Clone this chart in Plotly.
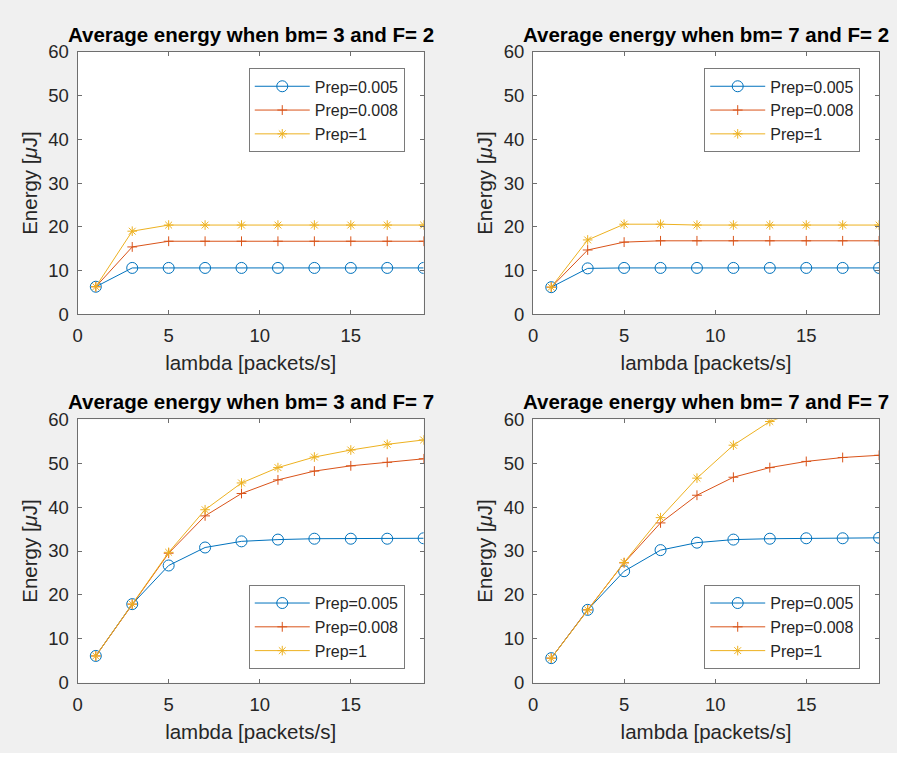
import plotly.graph_objects as go

# Arrival rate lambda [packets/s]
lam = [1, 3, 5, 7, 9, 11, 13, 15, 17, 19]

# Panel settings (bm, F)
panels = [(3, 2), (7, 2), (3, 7), (7, 7)]

# Average energy [uJ] for Prep = 0.005, 0.008, 1 in each panel
e_bm3_F2_p005 = [6.3, 10.6, 10.6, 10.6, 10.6, 10.6, 10.6, 10.6, 10.6, 10.6]
e_bm3_F2_p008 = [6.3, 15.4, 16.7, 16.7, 16.7, 16.7, 16.7, 16.7, 16.7, 16.7]
e_bm3_F2_p1 = [6.3, 19.0, 20.4, 20.4, 20.4, 20.4, 20.4, 20.4, 20.4, 20.4]

e_bm7_F2_p005 = [6.2, 10.5, 10.6, 10.6, 10.6, 10.6, 10.6, 10.6, 10.6, 10.6]
e_bm7_F2_p008 = [6.2, 14.7, 16.5, 16.8, 16.8, 16.8, 16.8, 16.8, 16.8, 16.8]
e_bm7_F2_p1 = [6.2, 17.0, 20.6, 20.6, 20.4, 20.4, 20.4, 20.4, 20.4, 20.4]

e_bm3_F7_p005 = [6.1, 17.9, 26.7, 30.8, 32.2, 32.6, 32.8, 32.8, 32.8, 32.9]
e_bm3_F7_p008 = [6.1, 17.9, 29.5, 38.0, 43.1, 46.2, 48.2, 49.4, 50.2, 51.0]
e_bm3_F7_p1 = [6.1, 17.9, 29.7, 39.4, 45.5, 49.0, 51.4, 53.0, 54.3, 55.3]

e_bm7_F7_p005 = [5.6, 16.6, 25.4, 30.2, 31.9, 32.6, 32.8, 32.9, 32.9, 33.0]
e_bm7_F7_p008 = [5.6, 16.6, 27.3, 36.4, 42.7, 46.8, 49.0, 50.4, 51.3, 51.8]
e_bm7_F7_p1 = [5.6, 16.6, 27.4, 37.6, 46.6, 54.1, 59.5, 62.5, 64.6, 66.0]

energy = [
    [e_bm3_F2_p005, e_bm3_F2_p008, e_bm3_F2_p1],
    [e_bm7_F2_p005, e_bm7_F2_p008, e_bm7_F2_p1],
    [e_bm3_F7_p005, e_bm3_F7_p008, e_bm3_F7_p1],
    [e_bm7_F7_p005, e_bm7_F7_p008, e_bm7_F7_p1],
]

series_names = ["Prep=0.005", "Prep=0.008", "Prep=1"]
colors = ["#0072BD", "#D95319", "#EDB120"]
symbols = ["circle-open", "cross-thin-open", "asterisk-open"]
msizes = [11, 7, 8]

x_ticks = [0, 5, 10, 15]
y_ticks = [0, 10, 20, 30, 40, 50, 60]

# figure kept a few px shorter than the window so the page never scrolls
W, H = 897, 753
FONT = "Liberation Sans, Arial, Helvetica, sans-serif"
AX_COLOR = "#6e6e6e"
TXT_COLOR = "#262626"

# axes boxes in pixels: (left, right, top, bottom)
boxes = [
    (73, 421, 42, 312),
    (531, 879, 42, 312),
    (73, 421, 420, 691),
    (531, 879, 420, 691),
]


def px_x(v):
    return v / W


def px_y(v):
    return 1 - v / H


fig = go.Figure()
layout = dict(
    width=W,
    height=H,
    margin=dict(l=0, r=0, t=0, b=0),
    paper_bgcolor="#f0f0f0",
    plot_bgcolor="#ffffff",
    font=dict(family=FONT, color=TXT_COLOR),
    annotations=[],
)

for i, ((bm, F), (l, r, t, b)) in enumerate(zip(panels, boxes)):
    k = "" if i == 0 else str(i + 1)
    xa, ya = "x" + k, "y" + k
    leg = "legend" + k
    for j in range(3):
        fig.add_trace(go.Scatter(
            x=lam, y=energy[i][j], name=series_names[j],
            mode="lines+markers", xaxis=xa, yaxis=ya, legend=leg,
            line=dict(color=colors[j], width=1),
            marker=dict(symbol=symbols[j], size=msizes[j], color=colors[j],
                        line=dict(color=colors[j], width=1)),
        ))
    xdom = [px_x(l), px_x(r)]
    ydom = [px_y(b), px_y(t)]
    common = dict(
        showline=True, linecolor=AX_COLOR, linewidth=1, mirror="ticks",
        ticks="inside", ticklen=4, tickcolor=AX_COLOR, tickwidth=1,
        showgrid=False, zeroline=False, fixedrange=True,
        tickfont=dict(family=FONT, size=18.5, color=TXT_COLOR),
    )
    layout["xaxis" + k] = dict(
        common, domain=xdom, anchor=ya, range=[0, 19], tickvals=x_ticks,
        ticklabelstandoff=5,
        title=dict(text="lambda [packets/s]", standoff=10,
                   font=dict(family=FONT, size=20.5, color=TXT_COLOR)),
    )
    layout["yaxis" + k] = dict(
        common, domain=ydom, anchor=xa, range=[0, 60], tickvals=y_ticks,
        ticklabelstandoff=4,
        title=dict(text="Energy [<i>μ</i>J]", standoff=5,
                   font=dict(family=FONT, size=20.5, color=TXT_COLOR)),
    )
    layout["annotations"].append(dict(
        text="<b>Average energy when bm= %d and F= %d</b>" % (bm, F),
        x=(xdom[0] + xdom[1]) / 2, y=ydom[1], xref="paper", yref="paper",
        xanchor="center", yanchor="bottom", yshift=4, showarrow=False,
        font=dict(family=FONT, size=20.5, color="#000000"),
    ))
    top_legend = F == 2
    layout[leg] = dict(
        x=px_x(r - 19),
        y=px_y(t + 17) if top_legend else px_y(b - 14),
        xanchor="right", yanchor="top" if top_legend else "bottom",
        bgcolor="#ffffff", bordercolor="#7a7a7a", borderwidth=1,
        font=dict(family=FONT, size=16, color=TXT_COLOR),
        itemwidth=55, tracegroupgap=0,
    )

fig.update_layout(**layout)
fig.write_html("out.html", config={"displayModeBar": False})
